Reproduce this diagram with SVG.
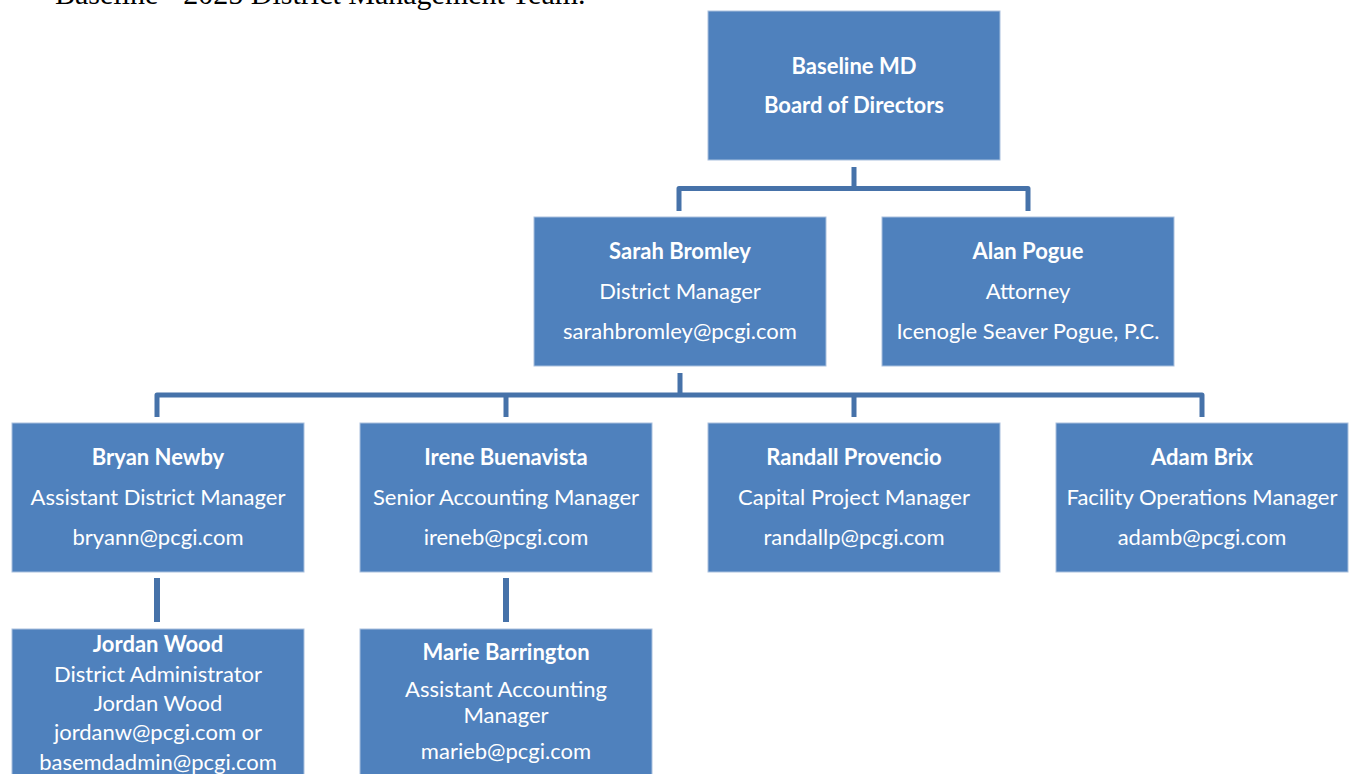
<svg xmlns="http://www.w3.org/2000/svg" width="1349" height="774" viewBox="0 0 1349 774">
<style>
.box{fill:#4F81BD;stroke:#A9C0DE;stroke-width:1}
.t{font-family:Lato,"Open Sans","Liberation Sans",sans-serif;font-size:22px;fill:#FFFFFF;text-anchor:middle}
.b{font-weight:bold}
.c{fill:none;stroke:#4672A9;stroke-width:5;stroke-linejoin:round}
.title{font-family:"Liberation Serif",serif;font-size:30px;fill:#000}
</style>
<rect width="1349" height="774" fill="#FFFFFF"/>
<text class="title" x="55" y="4">Baseline - 2025 District Management Team.</text>
<g id="connectors">
<path class="c" d="M854 167V188.5M679 211V188.5H1028V211"/>
<path class="c" d="M680 373V395M157 417V395H1202V417M506 395V417M854 395V417"/>
<path class="c" style="stroke-width:6" d="M157 578V622M506 578V622"/>
</g>
<g id="board">
<rect class="box" x="708" y="11" width="292" height="149"/>
<text class="t b" x="854" y="74">Baseline MD</text>
<text class="t b" x="854" y="113">Board of Directors</text>
</g>
<g id="sarah">
<rect class="box" x="534" y="217" width="292" height="149"/>
<text class="t b" x="680" y="259">Sarah Bromley</text>
<text class="t" x="680" y="299">District Manager</text>
<text class="t" x="680" y="339">sarahbromley@pcgi.com</text>
</g>
<g id="alan">
<rect class="box" x="882" y="217" width="292" height="149"/>
<text class="t b" x="1028" y="259">Alan Pogue</text>
<text class="t" x="1028" y="299">Attorney</text>
<text class="t" x="1028" y="339">Icenogle Seaver Pogue, P.C.</text>
</g>
<g id="bryan">
<rect class="box" x="12" y="423" width="292" height="149"/>
<text class="t b" x="158" y="465">Bryan Newby</text>
<text class="t" x="158" y="505">Assistant District Manager</text>
<text class="t" x="158" y="545">bryann@pcgi.com</text>
</g>
<g id="irene">
<rect class="box" x="360" y="423" width="292" height="149"/>
<text class="t b" x="506" y="465">Irene Buenavista</text>
<text class="t" x="506" y="505">Senior Accounting Manager</text>
<text class="t" x="506" y="545">ireneb@pcgi.com</text>
</g>
<g id="randall">
<rect class="box" x="708" y="423" width="292" height="149"/>
<text class="t b" x="854" y="465">Randall Provencio</text>
<text class="t" x="854" y="505">Capital Project Manager</text>
<text class="t" x="854" y="545">randallp@pcgi.com</text>
</g>
<g id="adam">
<rect class="box" x="1056" y="423" width="292" height="149"/>
<text class="t b" x="1202" y="465">Adam Brix</text>
<text class="t" x="1202" y="505">Facility Operations Manager</text>
<text class="t" x="1202" y="545">adamb@pcgi.com</text>
</g>
<g id="jordan">
<rect class="box" x="12" y="629" width="292" height="150"/>
<text class="t b" x="158" y="652">Jordan Wood</text>
<text class="t" x="158" y="682">District Administrator</text>
<text class="t" x="158" y="711">Jordan Wood</text>
<text class="t" x="158" y="740">jordanw@pcgi.com or</text>
<text class="t" x="158" y="770">basemdadmin@pcgi.com</text>
</g>
<g id="marie">
<rect class="box" x="360" y="629" width="292" height="150"/>
<text class="t b" x="506" y="660">Marie Barrington</text>
<text class="t" x="506" y="697">Assistant Accounting</text>
<text class="t" x="506" y="723">Manager</text>
<text class="t" x="506" y="759">marieb@pcgi.com</text>
</g>
</svg>
